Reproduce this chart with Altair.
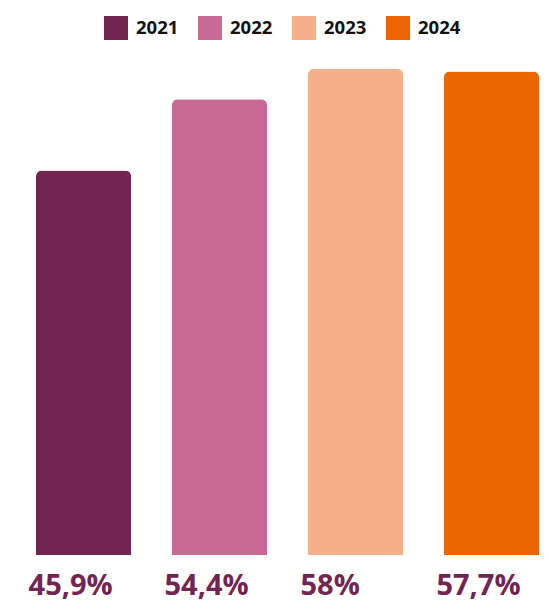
import altair as alt
import pandas as pd

years = ["2021", "2022", "2023", "2024"]
values = [45.9, 54.4, 58.0, 57.7]
labels = ["45,9%", "54,4%", "58%", "57,7%"]
colors = ["#722550", "#C86A95", "#F5B08A", "#EB6500"]

df = pd.DataFrame({"year": years, "value": values, "label": labels})

xenc = alt.X("year:N", axis=None, sort=years,
             scale=alt.Scale(paddingInner=0.3, paddingOuter=0))
yscale = alt.Scale(domain=[0, 58], nice=False, zero=True)

bars = alt.Chart(df).mark_bar(cornerRadiusTopLeft=6, cornerRadiusTopRight=6).encode(
    x=xenc,
    y=alt.Y("value:Q", axis=None, scale=yscale),
    color=alt.Color(
        "year:N",
        scale=alt.Scale(domain=years, range=colors),
        legend=alt.Legend(
            title=None, orient="none", legendX=68, legendY=-53,
            direction="horizontal", columns=4,
            symbolType="square", symbolSize=576, symbolStrokeWidth=0,
            symbolOpacity=1,
            labelFont="Open Sans", labelFontSize=18.5, labelFontWeight="bold",
            labelColor="#111111", labelOffset=8, columnPadding=19,
        ),
    ),
)

text = alt.Chart(df).mark_text(
    align="left", baseline="alphabetic", dx=-55, dy=40,
    font="Open Sans", fontSize=29, fontWeight="bold", color="#722550",
).encode(
    x=xenc,
    y=alt.datum(0, scale=yscale),
    text="label:N",
)

chart = (bars + text).properties(
    width=503, height=486,
    autosize=alt.AutoSizeParams(type="none"),
    padding={"left": 28, "top": 61, "right": 3, "bottom": 50},
).configure_view(stroke=None)

chart.save("out.html", embed_options={"renderer": "svg", "actions": False})
